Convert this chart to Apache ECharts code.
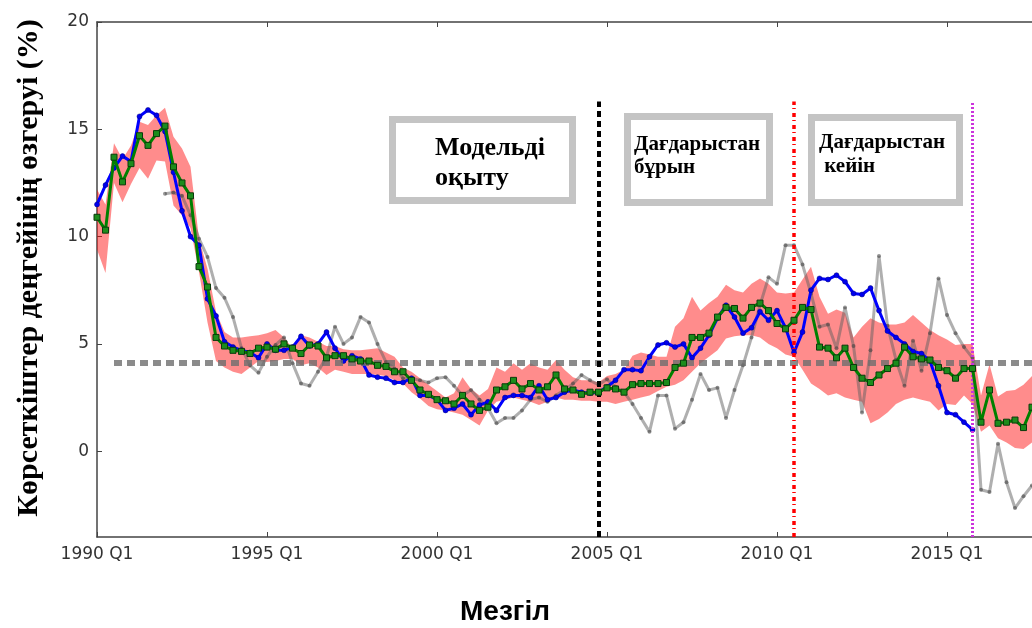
<!DOCTYPE html>
<html>
<head>
<meta charset="utf-8">
<script src="https://cdn.jsdelivr.net/npm/echarts@6/dist/echarts.min.js"></script>
<style>html,body{margin:0;padding:0;background:#fff;}#c{width:1032px;height:628px;}</style>
</head>
<body>
<div id="c"></div>
<script>
// Quarterly categories 1990 Q1 .. 2017 Q3
const quarters = [];
for (let y = 1990; y <= 2017; y++) { for (let q = 1; q <= 4; q++) { if (quarters.length < 111) quarters.push(y + ' Q' + q); } }

const yTicks = [0, 5, 10, 15, 20];

const blueSeries = [11.5,12.4,13.2,13.75,13.5,15.6,15.9,15.65,14.9,13.0,11.2,10.0,9.6,7.1,6.3,5.1,4.85,4.7,4.6,4.35,
5.0,4.7,4.7,4.85,5.35,4.9,5.0,5.55,4.8,4.2,4.45,4.3,3.55,3.45,3.4,3.2,3.2,3.4,2.6,2.6,
2.4,1.9,2.0,2.2,1.7,2.15,2.3,1.9,2.5,2.6,2.6,2.5,3.05,2.4,2.5,2.75,2.85,2.75,2.7,2.75,
3.0,3.3,3.8,3.8,3.75,4.4,4.95,5.05,4.85,5.0,4.35,4.8,5.4,6.2,6.8,6.25,5.5,5.75,6.5,6.1,
6.55,5.75,4.6,5.55,7.5,8.05,8.0,8.2,7.9,7.35,7.3,7.6,6.55,5.6,5.3,5.0,4.65,4.55,4.2,3.05,
1.8,1.7,1.35,1.0,null,null,null,null,null,null,null];

const greenSeries = [10.9,10.3,13.7,12.55,13.4,14.7,14.25,14.8,15.15,13.25,12.5,11.9,8.6,7.65,5.3,4.9,4.7,4.65,4.55,4.8,
4.85,4.75,5.0,4.8,4.55,4.95,4.9,4.35,4.45,4.45,4.3,4.2,4.2,4.0,3.95,3.7,3.7,3.3,2.85,2.65,
2.4,2.35,2.2,2.6,2.2,1.9,2.05,2.85,3.0,3.3,2.9,3.15,2.85,3.0,3.55,2.9,2.85,2.65,2.75,2.75,
2.95,2.9,2.75,3.1,3.15,3.15,3.15,3.2,3.9,4.1,5.3,5.3,5.5,6.25,6.7,6.65,6.2,6.7,6.9,6.55,
5.95,5.7,6.1,6.7,6.6,4.85,4.8,4.35,4.8,3.9,3.4,3.2,3.55,3.85,4.1,4.85,4.4,4.3,4.25,3.9,
3.75,3.4,3.85,3.85,1.35,2.85,1.3,1.35,1.45,1.1,2.05];

const graySeries = [null,null,null,null,null,null,null,null,12.0,12.05,11.9,11.0,9.9,9.05,7.6,7.15,6.25,4.8,4.0,3.65,
4.4,4.95,5.3,4.1,3.15,3.05,3.7,4.4,5.8,5.0,5.3,6.25,6.0,5.0,4.15,3.85,3.4,3.4,3.3,3.2,
3.4,3.45,3.05,2.6,2.85,2.4,2.0,1.3,1.55,1.55,1.9,2.4,2.5,2.3,2.6,2.85,3.15,3.55,3.3,3.1,
3.35,3.0,2.75,2.2,1.55,0.9,2.6,2.6,1.05,1.35,2.4,3.6,2.85,2.95,1.55,2.85,4.0,5.3,6.8,8.1,
7.8,9.6,9.6,8.7,7.35,5.8,5.9,4.8,6.7,4.9,1.8,4.7,9.1,5.85,4.25,3.05,5.15,3.75,5.5,8.05,
6.35,5.5,4.85,4.35,-1.8,-1.9,0.35,-1.45,-2.65,-2.1,-1.6];

const bandUpper = [12.2,11.5,14.35,13.6,14.25,15.35,15.2,15.65,16.0,14.65,14.1,13.25,9.9,8.5,6.5,5.55,5.3,5.3,5.35,5.4,
5.5,5.65,5.3,4.8,5.4,5.3,5.1,4.9,4.9,4.75,4.7,4.7,4.75,4.8,4.6,4.4,3.9,3.7,3.4,3.1,
2.8,2.5,2.7,3.45,2.9,2.6,2.9,3.9,3.7,4.1,3.8,4.1,3.9,3.8,4.25,3.8,3.45,3.3,3.3,3.2,
3.5,3.6,3.8,4.45,4.6,4.5,4.4,4.4,5.8,6.2,7.2,6.55,6.9,7.2,7.75,7.5,7.4,7.8,8.05,7.8,
7.4,7.35,7.4,8.0,8.6,7.2,6.4,6.6,6.45,5.3,5.8,6.2,6.0,5.9,5.9,6.0,6.35,6.0,5.65,5.4,
5.2,4.95,5.0,5.0,2.6,4.05,2.55,2.8,2.85,3.1,3.5];

const bandLower = [9.4,8.3,12.5,11.6,12.45,13.2,12.7,13.55,13.5,11.45,11.0,10.4,8.35,6.0,4.2,3.9,3.7,3.6,3.9,4.2,
4.15,4.2,4.3,4.3,4.0,4.1,3.9,3.55,3.8,3.7,3.6,3.6,3.6,3.55,3.5,3.3,3.15,2.75,2.45,2.1,
1.95,1.9,1.8,1.7,1.45,1.2,1.9,2.3,2.4,2.5,2.4,2.3,2.15,2.3,2.5,2.4,2.4,2.35,2.35,2.3,
2.3,2.2,2.3,2.4,2.5,2.6,2.8,3.0,3.1,3.3,3.7,4.1,4.4,4.7,5.25,5.35,5.4,5.4,5.3,5.0,
4.8,4.5,4.4,3.8,3.15,2.9,2.6,2.7,2.5,2.4,2.3,1.3,1.5,1.8,2.2,2.4,2.5,2.4,2.3,1.9,
2.2,2.15,2.6,2.2,0.9,1.2,0.6,0.4,0.15,0.1,0.4];

const referenceLevel = 4.1;
const splitQuarters = ['2004 Q4', '2010 Q3', '2015 Q4'];
const splitTop = 16.3;

const bandWidth = bandUpper.map((u, i) => +(u - bandLower[i]).toFixed(3));

const chart = echarts.init(document.getElementById('c'), null, {renderer: 'canvas'});

const axisColor = '#444';
const tickLabel = {color: '#333', fontSize: 17, fontFamily: 'DejaVu Sans'};

function vline(name, color, width, dash) {
  return {
    type: 'line', data: [], z: 10, silent: true,
    markLine: {
      silent: true, symbol: 'none', animation: false,
      label: {show: false},
      lineStyle: {color: color, width: width, type: dash},
      data: [[{coord: [name, -4]}, {coord: [name, splitTop]}]]
    }
  };
}

function box(x, y, w, h) {
  return {type: 'rect', shape: {x: x, y: y, width: w, height: h},
    style: {fill: '#fff', stroke: '#c4c4c4', lineWidth: 7}, z: 100};
}
function label(x, y, text, size, lh) {
  return {type: 'text', x: x, y: y, z: 101,
    style: {text: text, font: 'bold ' + size + 'px "Liberation Serif"', fill: '#000',
      align: 'left', verticalAlign: 'middle', lineHeight: lh}};
}

chart.setOption({
  animation: false,
  backgroundColor: '#fff',
  grid: {left: 97, right: 0, top: 22, bottom: 91, containLabel: false},
  xAxis: [{
    type: 'category', data: quarters, boundaryGap: false,
    axisLine: {show: true, onZero: false, lineStyle: {color: axisColor, width: 1.5}},
    axisTick: {show: true, inside: true, interval: 19, length: 5, lineStyle: {color: axisColor}},
    axisLabel: Object.assign({interval: 19, margin: 9}, tickLabel),
    splitLine: {show: false}
  }, {
    type: 'category', data: quarters, boundaryGap: false, position: 'top',
    axisLine: {show: true, onZero: false, lineStyle: {color: axisColor, width: 1.5}},
    axisTick: {show: true, inside: true, interval: 19, length: 5, lineStyle: {color: axisColor}},
    axisLabel: {show: false}, splitLine: {show: false}
  }],
  yAxis: [{
    type: 'value', min: -4, max: 20,
    axisLine: {show: true, lineStyle: {color: axisColor, width: 1.5}},
    axisTick: {show: true, inside: true, length: 5, customValues: yTicks, lineStyle: {color: axisColor}},
    axisLabel: Object.assign({customValues: yTicks, margin: 8}, tickLabel),
    splitLine: {show: false}
  }],
  graphic: [
    {type: 'text', x: 29, y: 268, rotation: Math.PI / 2, z: 100,
      style: {text: 'Көрсеткіштер деңгейінің өзгеруі (%)', font: 'bold 30px "Liberation Serif"',
        fill: '#000', align: 'center', verticalAlign: 'middle'}},
    {type: 'text', x: 505, y: 612, z: 100,
      style: {text: 'Мезгіл', font: 'bold 28px "Liberation Sans"', fill: '#000',
        align: 'center', verticalAlign: 'middle'}},
    box(392.5, 119.5, 180, 81),
    label(435, 163, 'Модельді\nоқыту', 26, 30),
    box(627.5, 116.5, 142, 86),
    label(634, 156, 'Дағдарыстан\nбұрын', 21, 23),
    box(811.5, 117.5, 148, 85),
    label(819, 155, 'Дағдарыстан\n кейін', 21, 24)
  ],
  series: [
    {name: 'lower', type: 'line', data: bandLower, stack: 'band', symbol: 'none',
      lineStyle: {width: 0, opacity: 0}, silent: true, z: 1},
    {name: 'band', type: 'line', data: bandWidth, stack: 'band', symbol: 'none',
      lineStyle: {width: 0, opacity: 0}, areaStyle: {color: 'rgba(255,0,0,0.45)', opacity: 1}, silent: true, z: 1},
    {name: 'hline', type: 'line', data: [], z: 2, silent: true,
      markLine: {silent: true, symbol: 'none', label: {show: false},
        lineStyle: {color: 'rgba(110,110,110,0.8)', width: 6, type: [8, 5]},
        data: [[{coord: [quarters[2], referenceLevel]}, {coord: [quarters[110], referenceLevel]}]]}},
    {name: 'gray', type: 'line', data: graySeries, z: 3, symbol: 'circle', symbolSize: 4,
      showAllSymbol: true, connectNulls: false,
      lineStyle: {color: 'rgba(95,95,95,0.5)', width: 3},
      itemStyle: {color: 'rgba(60,60,60,0.55)'}},
    {name: 'blue', type: 'line', data: blueSeries, z: 4, symbol: 'circle', symbolSize: 5,
      showAllSymbol: true,
      lineStyle: {color: '#0000ff', width: 3},
      itemStyle: {color: '#0000ee', borderColor: '#00007a', borderWidth: 0.5}},
    {name: 'green', type: 'line', data: greenSeries, z: 5, symbol: 'rect', symbolSize: 6,
      showAllSymbol: true,
      lineStyle: {color: '#008000', width: 3},
      itemStyle: {color: '#1c8c1c', borderColor: '#0b3a0b', borderWidth: 1}},
    vline(splitQuarters[0], '#000', 4, [6, 4]),
    vline(splitQuarters[1], '#ff0000', 3.5, [4, 4, 1, 3]),
    vline(splitQuarters[2], '#cc33dd', 3, [2, 2])
  ]
});
</script>
</body>
</html>
